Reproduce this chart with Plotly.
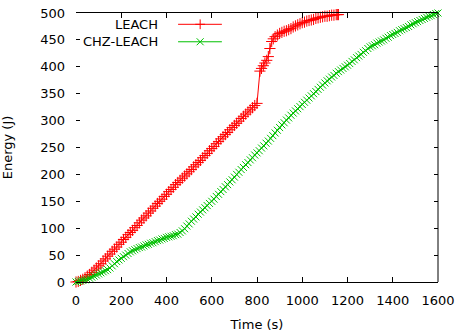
import plotly.graph_objects as go

# ---- data ----
leach_time = list(range(0, 810, 10)) + [813, 820, 828, 835, 843, 850, 857, 865, 872, 880,
    890, 900, 910, 920, 930, 940, 950, 960, 970, 980, 990, 1000, 1010, 1020, 1030,
    1040, 1050, 1060, 1070, 1080, 1090, 1100, 1110, 1120, 1130, 1140, 1150, 1155, 1160]
leach_energy = [0, 1, 3, 5, 8, 11, 14, 18, 22, 26, 30, 34, 39, 43, 48, 52, 57, 61, 65, 70,
    74, 79, 83, 88, 92, 96, 101, 105, 110, 115, 119, 123, 128, 132, 137, 141, 146, 150, 154, 159,
    163, 168, 172, 176, 181, 185, 189, 193, 197, 201, 205, 209, 214, 218, 222, 226, 231, 235, 239, 244,
    248, 252, 257, 261, 266, 270, 274, 278, 283, 287, 291, 295, 299, 304, 308, 312, 316, 320, 324, 328,
    332,
    392, 397, 402, 407, 412, 419, 434, 447, 452, 456,
    459, 462, 464, 466, 467, 469, 471, 474, 476, 478, 480, 482, 483, 485, 486,
    487, 488, 490, 491, 492, 493, 494, 494, 495, 496, 496, 497, 497, 497]

chz_time = list(range(0, 1610, 10))
chz_energy = [0, 1, 2, 3, 4, 5, 7, 9, 11, 13, 15, 17, 19, 21, 23, 26, 30, 34, 38, 41,
    44, 47, 50, 53, 56, 58, 60, 62, 64, 65, 67, 69, 70, 72, 73, 75, 77, 78, 80, 81,
    83, 84, 85, 86, 88, 89, 92, 95, 99, 104, 108, 113, 117, 121, 126, 130, 134, 138, 142, 146,
    150, 154, 159, 163, 168, 172, 177, 181, 186, 190, 195, 200, 204, 209, 213, 218, 222, 227, 231, 236,
    240, 244, 249, 253, 258, 262, 267, 272, 277, 282, 287, 292, 296, 301, 305, 310, 314, 318, 322, 326,
    330, 334, 338, 342, 346, 350, 354, 358, 362, 366, 370, 374, 377, 381, 384, 388, 391, 394, 397, 400,
    403, 406, 410, 413, 417, 420, 423, 427, 430, 434, 437, 439, 441, 444, 446, 448, 450, 453, 455, 458,
    460, 462, 464, 467, 469, 471, 473, 475, 478, 480, 482, 484, 486, 488, 490, 492, 494, 495, 497, 499,
    500]

x_ticks = [0, 200, 400, 600, 800, 1000, 1200, 1400, 1600]
y_ticks = [0, 50, 100, 150, 200, 250, 300, 350, 400, 450, 500]
series_names = ["LEACH", "CHZ-LEACH"]

RED = "#ff0000"
GREEN = "#00c000"
FONT = "DejaVu Sans"

fig = go.Figure()
fig.add_trace(go.Scatter(x=leach_time, y=leach_energy, mode="lines+markers",
    line=dict(color=RED, width=1),
    marker=dict(symbol="cross-thin", size=8, line=dict(color=RED, width=1)),
    cliponaxis=False, showlegend=False))
fig.add_trace(go.Scatter(x=chz_time, y=chz_energy, mode="lines+markers",
    line=dict(color=GREEN, width=1),
    marker=dict(symbol="x-thin", size=7, line=dict(color=GREEN, width=1)),
    cliponaxis=False, showlegend=False))

# custom gnuplot-style legend (text left of sample)
legend_y = [0.958, 0.893]
colors = [RED, GREEN]
symbols = ["cross-thin", "x-thin"]
for name, ly, c, s in zip(series_names, legend_y, colors, symbols):
    fig.add_trace(go.Scatter(x=[0.282, 0.403], y=[ly, ly], xaxis="x2", yaxis="y2",
        mode="lines", line=dict(color=c, width=1), showlegend=False, hoverinfo="skip"))
    fig.add_trace(go.Scatter(x=[0.343], y=[ly], xaxis="x2", yaxis="y2", mode="markers",
        marker=dict(symbol=s, size=7, line=dict(color=c, width=1)),
        showlegend=False, hoverinfo="skip"))
    fig.add_annotation(x=0.232, y=ly, xref="paper", yref="paper", text=name,
        showarrow=False, xanchor="right", yanchor="middle",
        font=dict(family=FONT, size=13, color="black"))

fig.update_layout(
    width=456, height=334,
    margin=dict(l=76, r=18, t=13, b=52, autoexpand=False),
    paper_bgcolor="white", plot_bgcolor="white",
    showlegend=False,
    font=dict(family=FONT, size=13, color="black"),
    xaxis=dict(range=[0, 1600], tickvals=x_ticks, ticks="inside", ticklen=5,
        tickcolor="black", showline=True, linecolor="black", linewidth=1,
        mirror="ticks", showgrid=False, zeroline=False, ticklabelstandoff=6,
        automargin=False,
        title=dict(text="Time (s)", standoff=13, font=dict(size=13))),
    yaxis=dict(range=[0, 500], tickvals=y_ticks, ticks="inside", ticklen=4,
        tickcolor="black", showline=False, mirror="ticks", showgrid=False,
        zeroline=False, ticklabelstandoff=10, automargin=False,
        title=dict(text="Energy (J)", standoff=24, font=dict(size=13))),
    xaxis2=dict(range=[0, 1], overlaying="x", visible=False),
    yaxis2=dict(range=[0, 1], overlaying="y", visible=False),
    shapes=[dict(type="line", xref="paper", yref="paper", x0=1, x1=1, y0=0, y1=1,
                 line=dict(color="black", width=1))],
)

fig.write_html("out.html")
